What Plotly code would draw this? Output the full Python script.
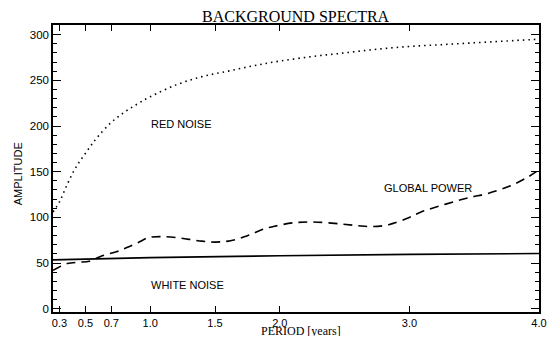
import plotly.graph_objects as go

# Red noise (dotted)
red_x = [0.25, 0.3, 0.35, 0.4, 0.45, 0.5, 0.55, 0.6, 0.7, 0.8, 0.9, 1.0, 1.2, 1.4, 1.6, 1.8, 2.0, 2.25, 2.5, 2.75, 3.0, 3.25, 3.5, 3.75, 4.0]
red_y = [106, 117, 133, 148, 160, 170, 180, 189, 204, 215, 224, 232, 245, 254, 260, 266, 271, 276, 280, 284, 287, 289, 291, 293, 295]

# Global power (dashed)
glob_x = [0.25, 0.36, 0.45, 0.53, 0.63, 0.74, 0.82, 0.9, 0.99, 1.09, 1.2, 1.3, 1.4, 1.5, 1.62, 1.75, 1.87, 1.95, 2.1, 2.25, 2.46, 2.6, 2.71, 2.84, 3.0, 3.09, 3.2, 3.34, 3.47, 3.6, 3.77, 3.9, 3.98]
glob_y = [42, 49.5, 51, 52, 58, 62.5, 67, 72, 78, 79, 78, 76, 74, 73, 74.5, 80, 87, 90, 94, 95, 93, 91, 90, 92, 100, 106, 111, 117, 122, 126, 134, 143, 150]

# White noise (solid)
white_x = [0.25, 1.0, 2.0, 3.0, 4.0]
white_y = [53.5, 56, 58, 59.5, 60.5]

x_ticks = [0.3, 0.5, 0.7, 1.0, 1.5, 2.0, 3.0, 4.0]
x_tick_labels = ["0.3", "0.5", "0.7", "1.0", "1.5", "2.0", "3.0", "4.0"]

fig = go.Figure()
fig.add_trace(go.Scatter(x=red_x, y=red_y, mode="lines", line=dict(color="black", width=1.6, dash="1.5px,4px", shape="spline"), showlegend=False))
fig.add_trace(go.Scatter(x=glob_x, y=glob_y, mode="lines", line=dict(color="black", width=1.6, dash="9px,6px", shape="spline"), showlegend=False))
fig.add_trace(go.Scatter(x=white_x, y=white_y, mode="lines", line=dict(color="black", width=1.6, shape="spline"), showlegend=False))

sans = "Liberation Sans"
serif = "Liberation Serif"

# page body has an 8px default margin, so the figure is sized/offset accordingly
fig.update_layout(
    width=549, height=331,
    margin=dict(l=45, r=10, t=17, b=26),
    paper_bgcolor="white", plot_bgcolor="white",
    font=dict(family=sans, size=11, color="black"),
    xaxis=dict(range=[0.25, 4.0], tickvals=x_ticks, ticktext=x_tick_labels,
               ticks="inside", ticklen=6, tickwidth=1.2, tickcolor="black",
               showline=True, linecolor="black", linewidth=1.8, mirror="ticks",
               showgrid=False, zeroline=False, ticklabeloverflow="allow",
               tickfont=dict(family=sans, size=11, color="black")),
    yaxis=dict(range=[-3.5, 310.5], tickvals=[0, 50, 100, 150, 200, 250, 300],
               ticks="inside", ticklen=8, tickwidth=1.2, tickcolor="black",
               showline=True, linecolor="black", linewidth=1.5, mirror="ticks",
               showgrid=False, zeroline=False,
               minor=dict(dtick=10, ticks="inside", ticklen=4, tickwidth=1, tickcolor="black", showgrid=False),
               tickfont=dict(family=sans, size=11.5, color="black")),
    annotations=[
        dict(text="BACKGROUND SPECTRA", xref="paper", yref="paper", x=0.5, y=1.0, yshift=0, height=14,
             xanchor="center", yanchor="bottom", showarrow=False, font=dict(family=serif, size=16)),
        dict(text="PERIOD [years]", xref="paper", yref="paper", x=0.51, y=0.0, yshift=-19, height=10,
             xanchor="center", yanchor="middle", showarrow=False, font=dict(family=serif, size=12)),
        dict(text="AMPLITUDE", xref="paper", yref="paper", x=0.0, xshift=-35, y=0.48,
             xanchor="center", yanchor="middle", textangle=-90, showarrow=False, font=dict(family=sans, size=11)),
        dict(text="RED NOISE", x=1.24, y=202, showarrow=False, font=dict(family=sans, size=11)),
        dict(text="GLOBAL POWER", x=3.14, y=132, showarrow=False, font=dict(family=sans, size=11)),
        dict(text="WHITE NOISE", x=1.29, y=25.5, showarrow=False, font=dict(family=sans, size=11)),
    ],
)

fig.write_html("out.html")
